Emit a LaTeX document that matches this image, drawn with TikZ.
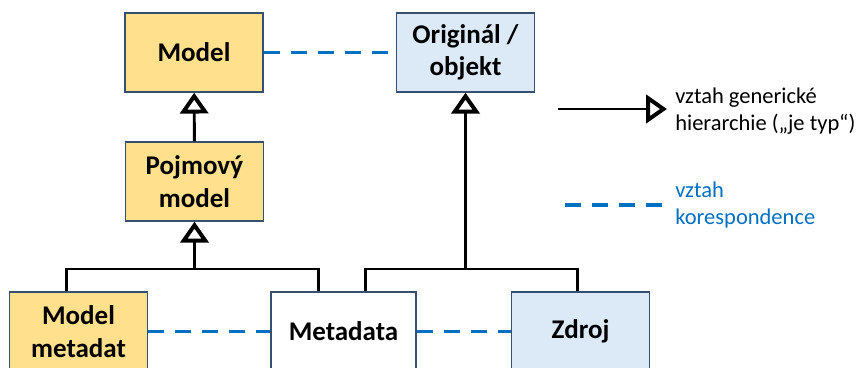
\documentclass[tikz,border=0pt]{standalone}
\usepackage{fontspec}
\setmainfont{Carlito}
\usetikzlibrary{arrows.meta,calc}

\definecolor{boxorange}{RGB}{255,224,140}
\definecolor{boxblue}{RGB}{220,233,246}
\definecolor{boxedge}{RGB}{56,80,112}
\definecolor{corblue}{RGB}{0,112,192}

\tikzset{
  box/.style={draw=boxedge, line width=1pt, minimum width=3.45cm, minimum height=1.975cm,
    align=center, inner sep=0pt, font=\fontsize{19.2}{23}\selectfont\bfseries},
  gen/.style={line width=2.1pt,
    -{Triangle[open, length=0.52cm, width=0.7cm, line width=2.8pt]}},
  tree/.style={line width=2.1pt},
  corr/.style={corblue, line width=2.8pt, dash pattern=on 11.4pt off 7.8pt},
  legend/.style={anchor=west, align=left, inner sep=0pt, font=\fontsize{16}{19.2}\selectfont}
}

\begin{document}
\begin{tikzpicture}[x=0.025cm, y=-0.025cm]
  \useasboundingbox (0,0) rectangle (862,368);
  % upper row
  \node[box, fill=boxorange] (model) at (194,52.5) {Model};
  \node[box, fill=boxblue] (orig) at (465.5,52.5) {Originál /\\objekt};
  \node[box, fill=boxorange] (pojm) at (194.5,181.5) {Pojmový\\model};
  % lower row
  \node[box, fill=boxorange] (mmeta) at (78.5,331.5) {Model\\metadat};
  \node[box, fill=white, minimum width=3.625cm] (meta) at (343.5,331.5) {Metadata};
  \node[box, fill=boxblue] (zdroj) at (580.5,331.5) {Zdroj};

  % generic hierarchy
  \draw[gen] (pojm) -- (model);
  \coordinate (busL) at (194.5,269);
  \coordinate (busR) at (465.5,269);
  \draw[gen] (busL) -- (pojm);
  \draw[gen] (busR) -- (orig);
  \draw[tree] ($(mmeta.north west)+(58,0)$) |- (busL) -| ($(meta.north west)+(48,0)$);
  \draw[tree] ($(meta.north west)+(95,0)$) |- (busR) -| ($(zdroj.north west)+(67,0)$);

  % correspondence
  \draw[corr] (model) -- (orig);
  \draw[corr] (mmeta) -- (meta);
  \draw[corr] (meta) -- (zdroj);

  % legend
  \coordinate (genA) at (558,109);
  \coordinate (genB) at (667,109);
  \draw[gen] (genA) -- (genB);
  \node[legend] (genlbl) at (675,111.5) {vztah generické\\hierarchie („je typ“)};
  \coordinate (corA) at (565,205);
  \coordinate (corB) at (663,205);
  \draw[corr] (corA) -- (corB);
  \node[legend, text=corblue] (corlbl) at (675,205) {vztah\\korespondence};
\end{tikzpicture}
\end{document}
